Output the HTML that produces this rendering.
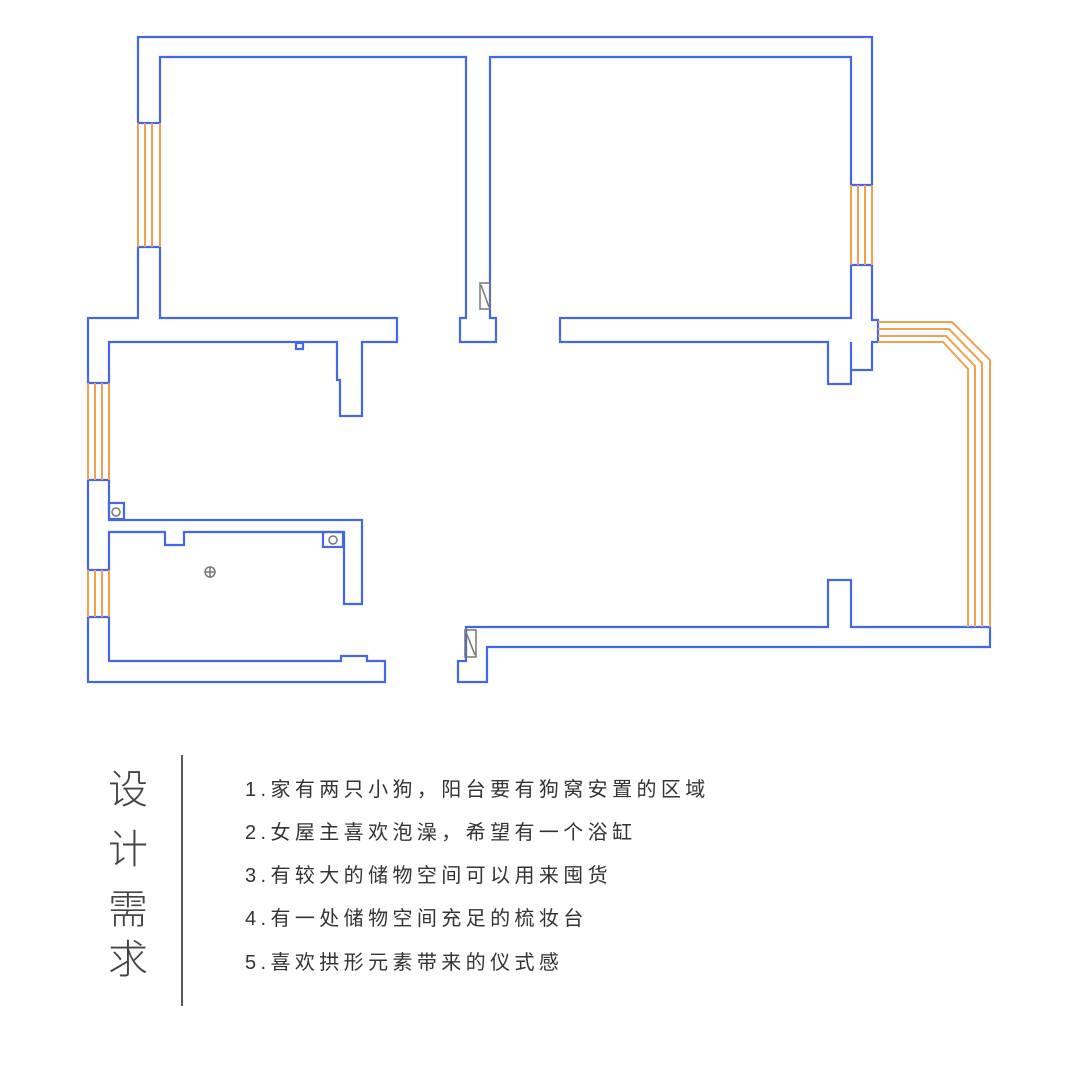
<!DOCTYPE html>
<html><head><meta charset="utf-8"><style>
body{margin:0;background:#fff;width:1080px;height:1080px;overflow:hidden;position:relative;font-family:"Liberation Sans","Noto Sans CJK SC",sans-serif}
svg{position:absolute;left:0;top:0}
.t{position:absolute;left:245px;font-size:20px;letter-spacing:4.4px;color:#333;white-space:nowrap}
.v{position:absolute;left:108px;font-size:40px;font-weight:300;color:#444;line-height:1}
</style></head><body>
<svg width="1080" height="1080" viewBox="0 0 1080 1080">
<g fill="none" stroke="#4466e8" stroke-width="2.2">
<path d="M138,123 V37 H872 V185"/>
<path d="M160,123 V57 H466 V318 H460 V342 H496 V318 H490 V57 H851 V185"/>
<path d="M138,123 H160 M138,247 H160"/>
<path d="M138,247 V318 H88 V383 H109 V342 H337 V380 H340 V416 H362 V342 H397 V318 H160 V247"/>
<path d="M88,480 V570 M109,480 V520 H362 V604 H344 V532 H184 V545 H165 V532 H109 V570 M88,480 H109 M88,570 H109"/>
<path d="M88,617 V682 H385 V661 H367 V656 H341 V661 H109 V617 H88"/>
<path d="M458,682 V661 H466 V627 H828 V580 H851 V627 H990 V647 H487 V682 Z"/>
<path d="M851,265 V318 H560 V342 H828 V384 H851 V370 H872 V342 H878 V320 H872 V265 M851,342 V370 M851,185 H872 M851,265 H872"/>
<rect x="296" y="343" width="7" height="6"/>
<rect x="109" y="503" width="15" height="16"/>
<rect x="323" y="532" width="20" height="15"/>
</g>
<g fill="none" stroke="#f0a050" stroke-width="2">
<path d="M138,123V247M145,123V247M152,123V247M160,123V247"/>
<path d="M88,383V480M95,383V480M102,383V480M109,383V480"/>
<path d="M88,570V617M95,570V617M102,570V617M109,570V617"/>
<path d="M851,185V265M858,185V265M865,185V265M872,185V265"/>
<path d="M878,322 H952 L990,360 V627"/>
<path d="M878,329 H949 L982,363 V627"/>
<path d="M878,336 H946 L975,366 V627"/>
<path d="M878,342 H943 L968,369 V627"/>
</g>
<g fill="none" stroke="#777" stroke-width="1.5">
<rect x="480" y="283" width="10" height="26"/><path d="M481,285 L489,307"/>
<rect x="465" y="630" width="11" height="27"/><path d="M466,632 L475,655"/>
<circle cx="116" cy="512" r="4"/><circle cx="333" cy="540" r="4"/>
<circle cx="210" cy="572" r="5"/><path d="M205,572H215M210,567V577"/>
</g>
<line x1="182" y1="755" x2="182" y2="1006" stroke="#222" stroke-width="1.5"/>
</svg>
<div class="v" style="top:770px">设</div>
<div class="v" style="top:830px">计</div>
<div class="v" style="top:890px">需</div>
<div class="v" style="top:940px">求</div>
<div class="t" style="top:773px">1.家有两只小狗，阳台要有狗窝安置的区域</div>
<div class="t" style="top:816px">2.女屋主喜欢泡澡，希望有一个浴缸</div>
<div class="t" style="top:859px">3.有较大的储物空间可以用来囤货</div>
<div class="t" style="top:902px">4.有一处储物空间充足的梳妆台</div>
<div class="t" style="top:946px">5.喜欢拱形元素带来的仪式感</div>
</body></html>
